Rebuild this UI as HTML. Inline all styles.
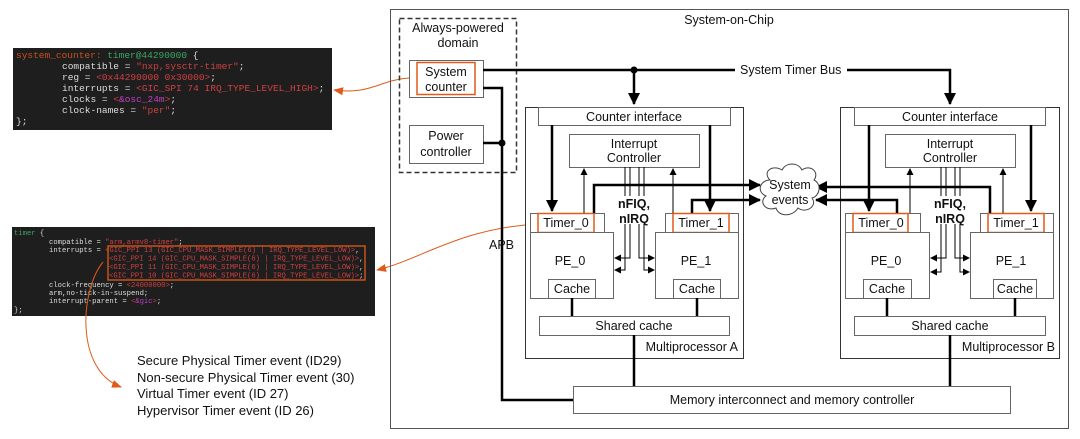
<!DOCTYPE html>
<html><head><meta charset="utf-8"><style>
html,body{margin:0;padding:0;background:#fff;width:1080px;height:439px;overflow:hidden}
svg{display:block}
.t{font-family:"Liberation Sans",sans-serif;font-size:12.5px;fill:#111}
.c{font-family:"Liberation Mono",monospace;font-size:9.5px}
.c2{font-family:"Liberation Mono",monospace;font-size:7.2px}
</style></head><body>
<svg width="1080" height="439" viewBox="0 0 1080 439" xmlns="http://www.w3.org/2000/svg">
<defs>
<marker id="a" markerWidth="8" markerHeight="8" refX="7" refY="4" orient="auto" markerUnits="userSpaceOnUse"><path d="M0,0 L8,4 L0,8 z" fill="#000"/></marker>
<marker id="as" markerWidth="7" markerHeight="7" refX="6" refY="3.5" orient="auto" markerUnits="userSpaceOnUse"><path d="M0,0 L7,3.5 L0,7 z" fill="#000"/></marker>
<marker id="ab" markerWidth="12" markerHeight="12" refX="11" refY="6" orient="auto" markerUnits="userSpaceOnUse"><path d="M0,0 L12,6 L0,12 z" fill="#000"/></marker>
<marker id="ao" markerWidth="10" markerHeight="10" refX="9" refY="5" orient="auto" markerUnits="userSpaceOnUse"><path d="M0,1 L10,5 L0,9 z" fill="#e05a1a"/></marker>
</defs>

<rect x="13" y="48" width="319" height="82" fill="#1e1e1e"/>
<g class="c">
<text x="16" y="58"><tspan fill="#c8501e">system_counter: </tspan><tspan fill="#3aa860">timer@44290000</tspan><tspan fill="#ddd"> {</tspan></text>
<text x="62" y="69" fill="#ddd">compatible = <tspan fill="#d04040">"nxp,sysctr-timer"</tspan>;</text>
<text x="62" y="80" fill="#ddd">reg = <tspan fill="#d04040">&lt;0x44290000 0x30000&gt;</tspan>;</text>
<text x="62" y="91" fill="#ddd">interrupts = <tspan fill="#d04040">&lt;GIC_SPI 74 IRQ_TYPE_LEVEL_HIGH&gt;</tspan>;</text>
<text x="62" y="102" fill="#ddd">clocks = <tspan fill="#d04040">&lt;</tspan><tspan fill="#c040c0">&amp;osc_24m</tspan><tspan fill="#d04040">&gt;</tspan>;</text>
<text x="62" y="113" fill="#ddd">clock-names = <tspan fill="#d04040">"per"</tspan>;</text>
<text x="16" y="124" fill="#ddd">};</text>
</g>
<path d="M409,78 C380,80 370,95 334,90" fill="none" stroke="#e05a1a" stroke-width="1" marker-end="url(#ao)"/>

<rect x="12" y="227" width="363" height="89" fill="#1e1e1e"/>
<g class="c2">
<text x="14" y="235"><tspan fill="#3aa860">timer</tspan><tspan fill="#ddd"> {</tspan></text>
<text x="49" y="244" fill="#ddd">compatible = <tspan fill="#d04040">"arm,armv8-timer"</tspan>;</text>
<text x="49" y="252" fill="#ddd">interrupts = <tspan fill="#d04040">&lt;GIC_PPI 13 (GIC_CPU_MASK_SIMPLE(6) | IRQ_TYPE_LEVEL_LOW)&gt;</tspan>,</text>
<text x="109" y="260.5" fill="#d04040">&lt;GIC_PPI 14 (GIC_CPU_MASK_SIMPLE(6) | IRQ_TYPE_LEVEL_LOW)&gt;<tspan fill="#ddd">,</tspan></text>
<text x="109" y="269" fill="#d04040">&lt;GIC_PPI 11 (GIC_CPU_MASK_SIMPLE(6) | IRQ_TYPE_LEVEL_LOW)&gt;<tspan fill="#ddd">,</tspan></text>
<text x="109" y="277.5" fill="#d04040">&lt;GIC_PPI 10 (GIC_CPU_MASK_SIMPLE(6) | IRQ_TYPE_LEVEL_LOW)&gt;<tspan fill="#ddd">;</tspan></text>
<text x="49" y="287" fill="#ddd">clock-frequency = <tspan fill="#d04040">&lt;24000000&gt;</tspan>;</text>
<text x="49" y="295" fill="#ddd">arm,no-tick-in-suspend;</text>
<text x="49" y="303" fill="#ddd">interrupt-parent = <tspan fill="#d04040">&lt;</tspan><tspan fill="#c040c0">&amp;gic</tspan><tspan fill="#d04040">&gt;</tspan>;</text>
<text x="14" y="312" fill="#ddd">};</text>
</g>
<rect x="108" y="246" width="257" height="34" fill="none" stroke="#e05a1a" stroke-width="1.3"/>
<path d="M538,224 C460,228 420,260 377,270" fill="none" stroke="#e05a1a" stroke-width="1" marker-end="url(#ao)"/>
<path d="M103,262 C80,290 75,370 121,387" fill="none" stroke="#e05a1a" stroke-width="1" marker-end="url(#ao)"/>
<g class="t" style="font-size:13px">
<text x="137" y="365">Secure Physical Timer event (ID29)</text>
<text x="137" y="382">Non-secure Physical Timer event (30)</text>
<text x="137" y="398">Virtual Timer event (ID 27)</text>
<text x="137" y="415">Hypervisor Timer event (ID 26)</text>
</g>

<rect x="390.5" y="9.5" width="678" height="419" fill="none" stroke="#555" stroke-width="1"/>
<text class="t" x="729" y="24" text-anchor="middle">System-on-Chip</text>
<rect x="399.5" y="18.5" width="117" height="154" fill="none" stroke="#333" stroke-width="1.5" stroke-dasharray="5,3"/>
<text class="t" x="458" y="32" text-anchor="middle">Always-powered</text>
<text class="t" x="458" y="47" text-anchor="middle">domain</text>
<rect x="409.5" y="60.5" width="74" height="37" fill="#fff" stroke="#666"/>
<rect x="417" y="62.5" width="58" height="32" fill="none" stroke="#e05a1a" stroke-width="1.5"/>
<text class="t" x="446" y="76" text-anchor="middle">System</text>
<text class="t" x="446" y="91" text-anchor="middle">counter</text>
<rect x="409.5" y="125.5" width="74" height="38" fill="#fff" stroke="#666"/>
<text class="t" x="446" y="140" text-anchor="middle">Power</text>
<text class="t" x="446" y="156" text-anchor="middle">controller</text>

<g stroke="#000" stroke-width="2.5" fill="none">
<path d="M483,70 H735"/>
<path d="M847,70 H950 V104" marker-end="url(#ab)"/>
<path d="M634,70 V104" marker-end="url(#ab)"/>
<path d="M483,88 H502 V400 H573"/>
<path d="M483,143 H502"/>
</g>
<circle cx="634" cy="70" r="3.5"/>
<circle cx="502" cy="143" r="3.5"/>
<text class="t" x="740" y="74">System Timer Bus</text>
<text class="t" x="489" y="249">APB</text>

<rect x="573.5" y="386.5" width="437" height="27" fill="#fff" stroke="#666"/>
<text class="t" x="792" y="404" text-anchor="middle">Memory interconnect and memory controller</text>

<g>
<rect x="525.5" y="107.5" width="218" height="251" fill="#fff" stroke="#333"/>
<rect x="538.5" y="107.5" width="192" height="18" fill="#fff" stroke="#666"/>
<text class="t" x="634" y="121" text-anchor="middle">Counter interface</text>
<rect x="569.5" y="134.5" width="130" height="33" fill="#fff" stroke="#666"/>
<text class="t" x="634" y="148" text-anchor="middle">Interrupt</text>
<text class="t" x="634" y="162" text-anchor="middle">Controller</text>
<rect x="530.5" y="213.5" width="74" height="19" fill="#fff" stroke="#666"/>
<rect x="538" y="213.5" width="56" height="19" fill="none" stroke="#e05a1a" stroke-width="1.5"/>
<text class="t" x="566" y="227" text-anchor="middle">Timer_0</text>
<rect x="530.5" y="232.5" width="83" height="66" fill="#fff" stroke="#666"/>
<text class="t" x="570" y="265" text-anchor="middle">PE_0</text>
<rect x="548.5" y="279.5" width="47" height="19" fill="#fff" stroke="#666"/>
<text class="t" x="572" y="293" text-anchor="middle">Cache</text>
<rect x="665.5" y="213.5" width="73" height="19" fill="#fff" stroke="#666"/>
<rect x="673" y="213.5" width="56" height="19" fill="none" stroke="#e05a1a" stroke-width="1.5"/>
<text class="t" x="701" y="227" text-anchor="middle">Timer_1</text>
<rect x="655.5" y="232.5" width="83" height="66" fill="#fff" stroke="#666"/>
<text class="t" x="696" y="265" text-anchor="middle">PE_1</text>
<rect x="673.5" y="279.5" width="47" height="19" fill="#fff" stroke="#666"/>
<text class="t" x="697" y="293" text-anchor="middle">Cache</text>
<rect x="539.5" y="316.5" width="190" height="19" fill="#fff" stroke="#666"/>
<text class="t" x="634" y="330" text-anchor="middle">Shared cache</text>
<text class="t" x="738" y="351" text-anchor="end">Multiprocessor A</text>
<g stroke="#000" stroke-width="2.5" fill="none">
<path d="M552,125 V211" marker-end="url(#ab)"/>
<path d="M710,125 V211" marker-end="url(#ab)"/>
<path d="M594,213 V185 H760" marker-end="url(#ab)"/>
<path d="M692,213 V200 H760" marker-end="url(#ab)"/>
<path d="M572,298 V316 M697,298 V316 M634,335 V386"/>
</g>
<g stroke="#000" stroke-width="1" fill="none">
<path d="M584,213 V169" marker-end="url(#as)"/>
<path d="M673,213 V169" marker-end="url(#as)"/>
<path d="M625,167 V196 M630,167 V196 M639,167 V196 M644,167 V196"/>
<path d="M625,224 V270 H615" marker-end="url(#as)"/>
<path d="M630,224 V258 H615" marker-end="url(#as)"/>
<path d="M639,224 V258 H654" marker-end="url(#as)"/>
<path d="M644,224 V270 H654" marker-end="url(#as)"/>
</g>
<text class="t" x="634" y="208" text-anchor="middle" font-weight="bold">nFIQ,</text>
<text class="t" x="634" y="223" text-anchor="middle" font-weight="bold">nIRQ</text>
</g>

<g>
<rect x="840.5" y="107.5" width="219" height="251" fill="#fff" stroke="#333"/>
<rect x="854.5" y="107.5" width="191" height="18" fill="#fff" stroke="#666"/>
<text class="t" x="950" y="121" text-anchor="middle">Counter interface</text>
<rect x="885.5" y="134.5" width="130" height="33" fill="#fff" stroke="#666"/>
<text class="t" x="950" y="148" text-anchor="middle">Interrupt</text>
<text class="t" x="950" y="162" text-anchor="middle">Controller</text>
<rect x="845.5" y="213.5" width="75" height="19" fill="#fff" stroke="#666"/>
<rect x="853" y="213.5" width="55" height="19" fill="none" stroke="#e05a1a" stroke-width="1.5"/>
<text class="t" x="881" y="227" text-anchor="middle">Timer_0</text>
<rect x="845.5" y="232.5" width="84" height="66" fill="#fff" stroke="#666"/>
<text class="t" x="886" y="265" text-anchor="middle">PE_0</text>
<rect x="863.5" y="279.5" width="48" height="19" fill="#fff" stroke="#666"/>
<text class="t" x="887" y="293" text-anchor="middle">Cache</text>
<rect x="980.5" y="213.5" width="73" height="19" fill="#fff" stroke="#666"/>
<rect x="988" y="213.5" width="56" height="19" fill="none" stroke="#e05a1a" stroke-width="1.5"/>
<text class="t" x="1016" y="227" text-anchor="middle">Timer_1</text>
<rect x="970.5" y="232.5" width="83" height="66" fill="#fff" stroke="#666"/>
<text class="t" x="1011" y="265" text-anchor="middle">PE_1</text>
<rect x="993.5" y="279.5" width="43" height="19" fill="#fff" stroke="#666"/>
<text class="t" x="1015" y="293" text-anchor="middle">Cache</text>
<rect x="854.5" y="316.5" width="191" height="19" fill="#fff" stroke="#666"/>
<text class="t" x="950" y="330" text-anchor="middle">Shared cache</text>
<text class="t" x="1055" y="351" text-anchor="end">Multiprocessor B</text>
<g stroke="#000" stroke-width="2.5" fill="none">
<path d="M869,125 V211" marker-end="url(#ab)"/>
<path d="M1031,125 V211" marker-end="url(#ab)"/>
<path d="M990,213 V187 H816" marker-end="url(#ab)"/>
<path d="M897,213 V200 H816" marker-end="url(#ab)"/>
<path d="M887,298 V316 M1015,298 V316 M950,335 V386"/>
</g>
<g stroke="#000" stroke-width="1" fill="none">
<path d="M910,213 V169" marker-end="url(#as)"/>
<path d="M1003,213 V169" marker-end="url(#as)"/>
<path d="M941,167 V196 M946,167 V196 M955,167 V196 M960,167 V196"/>
<path d="M941,224 V272 H931" marker-end="url(#as)"/>
<path d="M946,224 V258 H931" marker-end="url(#as)"/>
<path d="M955,224 V258 H969" marker-end="url(#as)"/>
<path d="M960,224 V272 H969" marker-end="url(#as)"/>
</g>
<text class="t" x="950" y="208" text-anchor="middle" font-weight="bold">nFIQ,</text>
<text class="t" x="950" y="223" text-anchor="middle" font-weight="bold">nIRQ</text>
</g>

<path d="M770,180 C762,172 772,164 782,170 C786,162 798,162 802,170 C810,164 820,172 814,180 C822,184 820,196 812,198 C818,206 806,214 798,208 C792,218 778,216 776,208 C766,212 758,202 766,196 C756,192 760,180 770,180 Z" fill="#fff" stroke="#444" stroke-width="1"/>
<text class="t" x="790" y="189" text-anchor="middle">System</text>
<text class="t" x="790" y="204" text-anchor="middle">events</text>
</svg>
</body></html>
